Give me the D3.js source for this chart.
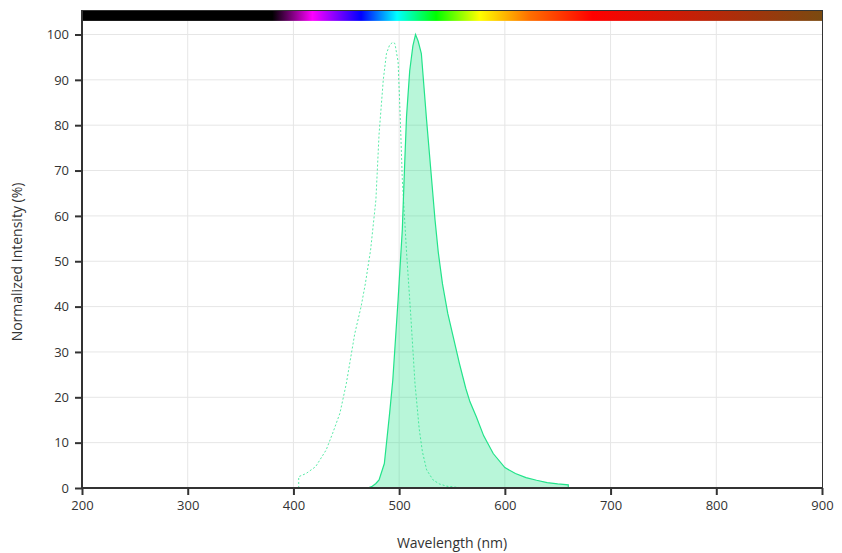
<!DOCTYPE html>
<html>
<head>
<meta charset="utf-8">
<script src="https://cdn.jsdelivr.net/npm/d3@7"></script>
<style>
  body { margin: 0; background: #fff; }
  svg { display: block; font-family: "Open Sans", sans-serif; }
</style>
</head>
<body>
<svg id="chart" width="842" height="553"></svg>
<script>
// ---- data ----
const xTicks = [200, 300, 400, 500, 600, 700, 800, 900];
const yTicks = [0, 10, 20, 30, 40, 50, 60, 70, 80, 90, 100];

const emissionWl = [470, 474, 478, 481, 486, 491, 494, 499, 503, 505, 507, 510, 513, 515.5, 518, 521, 526, 530, 534, 537, 541, 546, 551, 557, 563, 567, 573, 580, 589, 600, 610, 620, 630, 640, 650, 660, 660];
const emissionVal = [0, 0.3, 1, 1.8, 5.4, 16.5, 23.8, 41.5, 57, 70, 82, 92, 97.5, 100, 98.5, 95.8, 81, 70, 59, 52, 45, 38.5, 33.5, 27.5, 22, 19, 15.7, 11.5, 7.6, 4.5, 3.2, 2.3, 1.7, 1.2, 0.9, 0.7, 0];

const excitationWl = [405, 405, 412, 421, 431, 437, 444, 450, 458, 464, 468, 473, 478, 481, 485, 488, 491, 494, 496, 499, 501, 503, 505, 507, 511, 515, 519, 522, 526, 532, 538, 545, 557];
const excitationVal = [0, 2.5, 3.2, 4.7, 8.4, 12, 16.5, 23, 34, 40, 45, 52.5, 63.5, 78, 90, 95.8, 97.7, 98.3, 98, 94, 82, 68, 60, 52, 38, 23, 13, 8, 4, 1.8, 0.9, 0.4, 0.1];

// spectrum bar colour stops (wavelength, colour)
const spectrumWl = [200, 380, 418, 464, 498, 535, 576, 623, 683, 900];
const spectrumColor = ["#000000", "#000000", "#ff00ff", "#0000ff", "#00ffff", "#00ff00", "#ffff00", "#ff7000", "#ff0000", "#7a4a10"];

// ---- layout ----
const W = 842, H = 553;
const m = { left: 82, right: 20, top: 10, bottom: 65 };
const svg = d3.select("#chart");

const x = d3.scaleLinear().domain([200, 900]).range([m.left, W - m.right]);
const y = d3.scaleLinear().domain([0, 105.4]).range([H - m.bottom, m.top]);
const barBottom = y(103);

// grid
const grid = svg.append("g");
grid.selectAll("line.h").data(yTicks.filter(d => d > 0)).join("line")
  .attr("x1", m.left).attr("x2", W - m.right)
  .attr("y1", d => y(d)).attr("y2", d => y(d))
  .attr("stroke", "#e6e6e6").attr("stroke-width", 1);
grid.selectAll("line.v").data(xTicks.filter(d => d > 200 && d < 900)).join("line")
  .attr("x1", d => x(d)).attr("x2", d => x(d))
  .attr("y1", barBottom).attr("y2", y(0))
  .attr("stroke", "#e6e6e6").attr("stroke-width", 1);

// spectrum bar
const defs = svg.append("defs");
const grad = defs.append("linearGradient").attr("id", "spec")
  .attr("gradientUnits", "userSpaceOnUse")
  .attr("x1", x(200)).attr("x2", x(900)).attr("y1", 0).attr("y2", 0);
spectrumWl.forEach((w, i) => {
  grad.append("stop").attr("offset", (w - 200) / 700).attr("stop-color", spectrumColor[i]);
});
svg.append("rect")
  .attr("x", x(200)).attr("y", y(105.4))
  .attr("width", x(900) - x(200)).attr("height", barBottom - y(105.4))
  .attr("fill", "url(#spec)");
svg.append("line")
  .attr("x1", x(200)).attr("x2", x(900)).attr("y1", y(105.4) + 0.5).attr("y2", y(105.4) + 0.5)
  .attr("stroke", "#333").attr("stroke-width", 1);

// curves
const color = "#22e38a";
const emission = emissionWl.map((w, i) => [w, emissionVal[i]]);
const excitation = excitationWl.map((w, i) => [w, excitationVal[i]]);

svg.append("path").datum(emission)
  .attr("d", d3.area().x(d => x(d[0])).y0(y(0)).y1(d => y(d[1])))
  .attr("fill", color).attr("fill-opacity", 0.32);
svg.append("path").datum(emission)
  .attr("d", d3.line().x(d => x(d[0])).y(d => y(d[1])))
  .attr("fill", "none").attr("stroke", color).attr("stroke-width", 1.2);
svg.append("path").datum(excitation)
  .attr("d", d3.line().x(d => x(d[0])).y(d => y(d[1])))
  .attr("fill", "none").attr("stroke", color).attr("stroke-opacity", 0.75)
  .attr("stroke-width", 1).attr("stroke-dasharray", "2,2");

// right border
svg.append("line")
  .attr("x1", x(900) + 0.5).attr("x2", x(900) + 0.5)
  .attr("y1", y(105.4)).attr("y2", y(0))
  .attr("stroke", "#333").attr("stroke-width", 1);

// axes
const xAxis = svg.append("g").attr("transform", `translate(0,${y(0)})`)
  .call(d3.axisBottom(x).tickValues(xTicks).tickSize(7).tickPadding(6));
const yAxis = svg.append("g").attr("transform", `translate(${m.left},0)`)
  .call(d3.axisLeft(y).tickValues(yTicks).tickSize(7).tickPadding(6));
[xAxis, yAxis].forEach(a => {
  a.select(".domain").attr("stroke", "#333").attr("stroke-width", 2);
  a.selectAll(".tick line").attr("stroke", "#333").attr("stroke-width", 2);
  a.selectAll(".tick text").attr("fill", "#333").style("font-size", "13px")
    .style("font-family", "'Open Sans', sans-serif");
});
yAxis.select(".domain").attr("d", `M0,${y(105.4)}V${y(0)}`);
xAxis.select(".domain").attr("d", `M${x(200) - 1},0H${x(900) + 1}`);

// titles
svg.append("text")
  .attr("x", (x(200) + x(900)) / 2).attr("y", 548)
  .attr("text-anchor", "middle").attr("fill", "#333")
  .style("font-size", "14px").text("Wavelength (nm)");
svg.append("text")
  .attr("transform", `translate(22,${262}) rotate(-90)`)
  .attr("text-anchor", "middle").attr("fill", "#333")
  .style("font-size", "14px").text("Normalized Intensity (%)");
</script>
</body>
</html>
